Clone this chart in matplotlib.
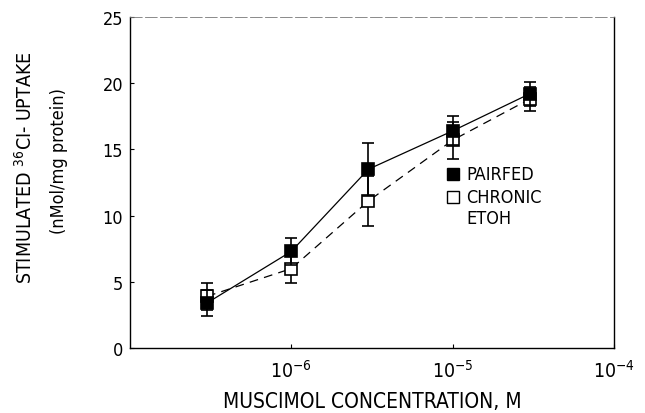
import matplotlib
matplotlib.use("Agg")
import matplotlib.pyplot as plt
from matplotlib.ticker import LogFormatterSciNotation, NullLocator, NullFormatter, FixedLocator

plt.rcParams['font.family'] = ['DejaVu Sans']
plt.rcParams['font.stretch'] = 'condensed'
plt.rcParams['mathtext.default'] = 'regular'

# Data
concentration = [3e-7, 1e-6, 3e-6, 1e-5, 3e-5]
pairfed = [3.4, 7.3, 13.5, 16.4, 19.2]
pairfed_err = [1.0, 1.0, 2.0, 1.1, 0.9]
chronic = [3.9, 6.0, 11.1, 15.7, 18.8]
chronic_err = [1.0, 1.1, 1.9, 1.4, 0.9]
yticks = [0, 5, 10, 15, 20, 25]
xticks = [1e-6, 1e-5, 1e-4]

fig = plt.figure(figsize=(6.45, 4.14), dpi=100)
ax = fig.add_axes([0.2016, 0.157, 0.7504, 0.7995])

ax.errorbar(concentration, chronic, yerr=chronic_err, fmt='s', color='black',
            mfc='white', mec='black', ms=8.5, mew=1.2, capsize=4.5, elinewidth=1.2,
            capthick=1.2, ls='none', zorder=3)
ax.plot(concentration, chronic, color='black', lw=0.9, ls=(0, (7, 5)), zorder=2)
ax.errorbar(concentration, pairfed, yerr=pairfed_err, fmt='s', color='black',
            mfc='black', mec='black', ms=8.5, mew=1.2, capsize=4.5, elinewidth=1.2,
            capthick=1.2, ls='none', zorder=4)
ax.plot(concentration, pairfed, color='black', lw=0.9, ls='-', zorder=2)

ax.set_xscale('log')
ax.set_xlim(1e-7, 1e-4)
ax.set_ylim(0, 25)
ax.xaxis.set_major_locator(FixedLocator(xticks))
ax.xaxis.set_major_formatter(LogFormatterSciNotation())
ax.xaxis.set_minor_locator(NullLocator())
ax.xaxis.set_minor_formatter(NullFormatter())
ax.set_yticks(yticks)

ax.tick_params(axis='both', direction='in', length=3, width=0.8, labelsize=13)
ax.tick_params(axis='x', pad=8, labelsize=14)
ax.tick_params(axis='y', pad=5)

for s in ['left', 'bottom', 'right']:
    ax.spines[s].set_linewidth(1.0)
ax.spines['top'].set_linewidth(0.6)
ax.spines['top'].set_color('#777777')
ax.spines['top'].set_linestyle((0, (14, 4)))

ax.set_xlabel('MUSCIMOL CONCENTRATION, M', fontsize=15, labelpad=7)

fig.text(0.039, 0.595, 'STIMULATED $^{36}$CI- UPTAKE', rotation=90,
         ha='center', va='center', fontsize=14)
fig.text(0.091, 0.61, '(nMol/mg protein)', rotation=90,
         ha='center', va='center', fontsize=13)

# Legend
ax.plot([0.667], [0.525], transform=ax.transAxes, marker='s', ms=8,
        mfc='black', mec='black', ls='none', clip_on=False)
ax.plot([0.667], [0.455], transform=ax.transAxes, marker='s', ms=8,
        mfc='white', mec='black', mew=1.0, ls='none', clip_on=False)
ax.text(0.695, 0.525, 'PAIRFED', transform=ax.transAxes, va='center',
        ha='left', fontsize=13)
ax.text(0.695, 0.455, 'CHRONIC', transform=ax.transAxes, va='center',
        ha='left', fontsize=13)
ax.text(0.695, 0.392, 'ETOH', transform=ax.transAxes, va='center',
        ha='left', fontsize=13)

fig.savefig('out.png', dpi=100)
